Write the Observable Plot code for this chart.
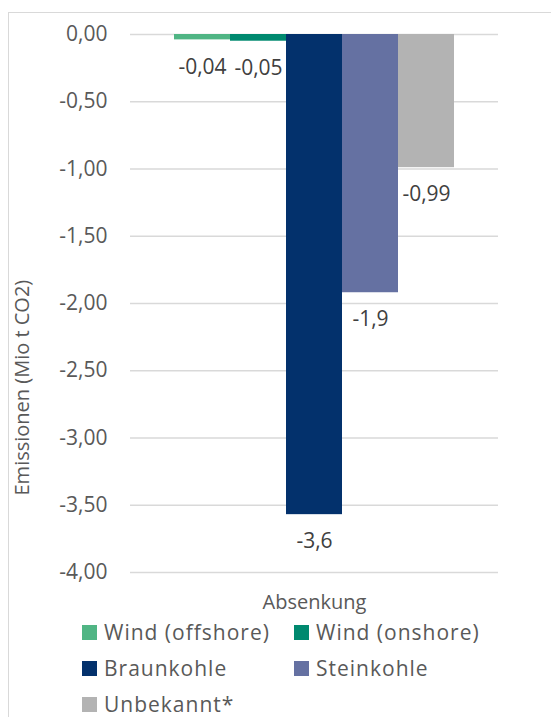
<!DOCTYPE html>
<html>
<head>
<meta charset="utf-8">
<script src="https://cdn.jsdelivr.net/npm/d3@7"></script>
<script src="https://cdn.jsdelivr.net/npm/@observablehq/plot@0.6"></script>
<style>
  html, body { margin: 0; padding: 0; background: #fff; }
  body { width: 551px; height: 717px; overflow: hidden; position: relative; font-family: "Open Sans", sans-serif; }
  #frame { position: absolute; left: 8px; top: 12px; width: 600px; height: 800px; border: 1.5px solid #d9d9d9; box-sizing: border-box; }
  #chart { position: absolute; left: 0; top: 0; }
  #legend { position: absolute; left: 82px; top: 614px; width: 440px; display: flex; flex-wrap: wrap; font-size: 21px; letter-spacing: 1px; color: #595959; line-height: 36px; }
  .item { width: 212px; display: flex; align-items: center; white-space: nowrap; }
  .swatch { width: 15px; height: 15px; margin-right: 7px; flex: none; }
</style>
</head>
<body>
<div id="frame"></div>
<div id="chart"></div>
<div id="legend"></div>
<script>
// Emission reductions by displaced generation source (Mio t CO2)
const group = "Absenkung";
const series = ["Wind (offshore)", "Wind (onshore)", "Braunkohle", "Steinkohle", "Unbekannt*"];
const values = [-0.04, -0.05, -3.57, -1.92, -0.99];
const labelDecimals = [2, 2, 1, 1, 2];
const colors = ["#50b584", "#00896f", "#03316c", "#6571a2", "#b3b3b3"];
const yTicks = [0, -0.5, -1, -1.5, -2, -2.5, -3, -3.5, -4];
const yTitle = "Emissionen (Mio t CO2)";

const deNum = (v, d) => v.toFixed(d).replace(".", ",");

const rows = series.map((s, i) => ({
  group,
  series: s,
  value: values[i],
  label: deNum(values[i], labelDecimals[i])
}));

const chart = Plot.plot({
  width: 551,
  height: 615,
  marginTop: 34,
  marginBottom: 43,
  marginLeft: 130,
  marginRight: 53,
  style: { fontFamily: "'Open Sans', sans-serif", fontSize: "20px", color: "#595959", background: "transparent" },
  fx: { domain: [group], padding: 0, label: null },
  x: { domain: series, padding: 0, insetLeft: 42, insetRight: 42, axis: null },
  y: { domain: [-4, 0], label: null },
  color: { domain: series, range: colors },
  marks: [
    Plot.gridY(yTicks, { stroke: "#d9d9d9", strokeOpacity: 1, strokeWidth: 1.5 }),
    Plot.axisY(yTicks, {
      tickSize: 0, tickPadding: 23, label: null,
      tickFormat: d => deNum(d, 2), fill: "#595959", fontSize: 21
    }),
    Plot.axisFx({ anchor: "bottom", tickSize: 0, tickPadding: 22, label: null, fill: "#595959", fontSize: 20 }),
    Plot.barY(rows, { fx: "group", x: "series", y: "value", fill: "series" }),
    Plot.text(rows, {
      fx: "group", x: "series", y: "value", text: "label",
      dy: 27, fill: "#404040", fontSize: 21
    }),
    Plot.text([yTitle], {
      text: d => d, frameAnchor: "bottom-left", rotate: -90, textAnchor: "start",
      dx: -102, dy: -77, fill: "#595959", fontSize: 20
    })
  ]
});
document.getElementById("chart").appendChild(chart);

// Legend: two columns of square swatches
const legend = d3.select("#legend");
series.forEach((s, i) => {
  const item = legend.append("div").attr("class", "item");
  item.append("div").attr("class", "swatch").style("background", colors[i]);
  item.append("span").text(s);
});
</script>
</body>
</html>
